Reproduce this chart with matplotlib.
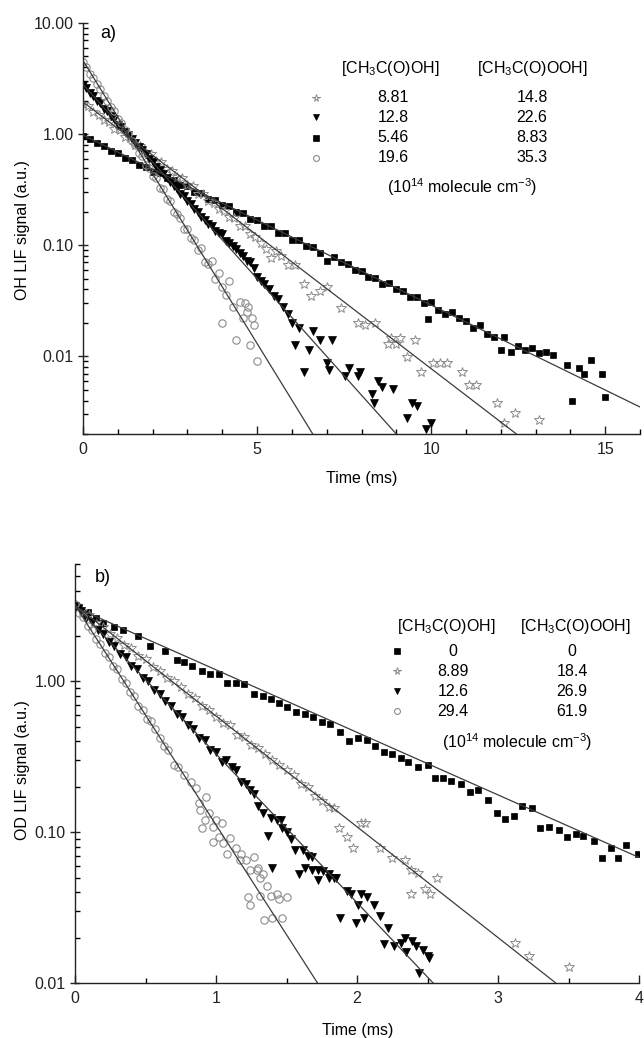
import matplotlib
matplotlib.use("Agg")
import matplotlib.pyplot as plt
from matplotlib.ticker import MultipleLocator, LogLocator, NullFormatter, FixedLocator, FuncFormatter
from matplotlib.lines import Line2D

plt.rcParams['font.family'] = ['Liberation Sans', 'DejaVu Sans']
plt.rcParams['mathtext.fontset'] = 'custom'
plt.rcParams['mathtext.rm'] = 'Liberation Sans'
plt.rcParams['mathtext.it'] = 'Liberation Sans:italic'

# ---------------- Panel a data (OH) ----------------
a_circ_t = [0.0, 0.1, 0.2, 0.3, 0.4, 0.5, 0.6, 0.7, 0.8, 0.9, 1.0, 1.1, 1.2, 1.3, 1.4, 1.5, 1.6, 1.7, 1.8, 1.9,
            2.0, 2.1, 2.2, 2.3, 2.4, 2.5, 2.6, 2.7, 2.8, 2.9, 3.0, 3.1, 3.2, 3.3, 3.4, 3.5, 3.6, 3.7, 3.8, 3.9,
            4.0, 4.1, 4.2, 4.3, 4.4, 4.5, 4.6, 4.7, 4.8, 4.9, 5.0, 4.0, 4.65, 4.75, 4.85]
a_circ_y = [4.45, 4.05, 3.50, 3.20, 2.80, 2.55, 2.20, 2.00, 1.74, 1.60, 1.38, 1.26, 1.08, 1.00, 0.86, 0.80, 0.68, 0.63, 0.53, 0.50,
            0.42, 0.40, 0.33, 0.32, 0.26, 0.25, 0.20, 0.19, 0.175, 0.14, 0.14, 0.115, 0.112, 0.09, 0.095, 0.07, 0.068, 0.072, 0.05, 0.056,
            0.042, 0.036, 0.048, 0.028, 0.014, 0.031, 0.022, 0.025, 0.0126, 0.019, 0.009, 0.020, 0.030, 0.028, 0.022]

a_tri_t = [0.0, 0.1, 0.2, 0.3, 0.4, 0.5, 0.6, 0.7, 0.8, 0.9, 1.0, 1.1, 1.2, 1.3, 1.4, 1.5, 1.6, 1.7, 1.8, 1.9,
           2.0, 2.1, 2.2, 2.3, 2.4, 2.5, 2.6, 2.7, 2.8, 2.9, 3.0, 3.1, 3.2, 3.3, 3.4, 3.5, 3.6, 3.7, 3.8, 3.9,
           4.0, 4.1, 4.2, 4.3, 4.4, 4.5, 4.6, 4.7, 4.8, 4.9, 5.0, 5.1, 5.2, 5.35, 5.5, 5.6, 5.75, 5.9, 6.0, 6.1,
           6.2, 6.35, 6.5, 6.6, 6.8, 7.0, 7.07, 7.16, 7.54, 7.64, 7.9, 7.96, 8.3, 8.37, 8.47, 8.6, 8.9, 9.3, 9.44, 9.6,
           9.84, 10.0]
a_tri_y = [2.75, 2.60, 2.35, 2.22, 2.00, 1.90, 1.70, 1.62, 1.45, 1.38, 1.22, 1.16, 1.05, 0.99, 0.90, 0.84, 0.76, 0.72, 0.66, 0.60,
           0.56, 0.51, 0.48, 0.44, 0.40, 0.37, 0.34, 0.32, 0.29, 0.275, 0.25, 0.235, 0.21, 0.20, 0.18, 0.17, 0.155, 0.148, 0.135, 0.13,
           0.125, 0.11, 0.105, 0.098, 0.092, 0.085, 0.080, 0.072, 0.070, 0.062, 0.052, 0.048, 0.045, 0.040, 0.035, 0.033, 0.028, 0.024, 0.020, 0.0126,
           0.018, 0.0072, 0.0115, 0.017, 0.014, 0.0088, 0.0075, 0.014, 0.0066, 0.0079, 0.0066, 0.0072, 0.0046, 0.0038, 0.0060, 0.0053, 0.0051, 0.0028, 0.0038, 0.0036,
           0.0022, 0.0025]

a_star_t = [0.0, 0.15, 0.3, 0.45, 0.6, 0.75, 0.9, 1.05, 1.2, 1.35, 1.5, 1.65, 1.8, 1.95, 2.1, 2.25, 2.4, 2.55, 2.7, 2.85,
            3.0, 3.15, 3.3, 3.45, 3.6, 3.75, 3.9, 4.05, 4.2, 4.35, 4.5, 4.65, 4.8, 4.95, 5.1, 5.25, 5.4, 5.55, 5.7, 5.9,
            6.1, 6.35, 6.55, 6.8, 7.0, 7.4, 7.9, 8.1, 8.4, 8.75, 8.85, 9.0, 9.1, 9.3, 9.55, 9.7, 10.05, 10.25, 10.45, 10.9,
            11.1, 11.3, 11.9, 12.1, 12.4, 13.1]
a_star_y = [1.85, 1.78, 1.58, 1.50, 1.33, 1.28, 1.12, 1.08, 0.95, 0.92, 0.80, 0.78, 0.68, 0.66, 0.57, 0.56, 0.49, 0.47, 0.41, 0.40,
            0.35, 0.34, 0.29, 0.29, 0.25, 0.24, 0.21, 0.205, 0.18, 0.175, 0.15, 0.148, 0.125, 0.118, 0.105, 0.092, 0.076, 0.088, 0.080, 0.067,
            0.066, 0.045, 0.035, 0.039, 0.042, 0.027, 0.020, 0.019, 0.020, 0.013, 0.0145, 0.013, 0.0145, 0.0098, 0.014, 0.0072, 0.0087, 0.0088, 0.0087, 0.0072,
            0.0055, 0.0055, 0.0038, 0.0025, 0.0031, 0.0027]

a_sq_t = [0.0, 0.2, 0.4, 0.6, 0.8, 1.0, 1.2, 1.4, 1.6, 1.8, 2.0, 2.2, 2.4, 2.6, 2.8, 3.0, 3.2, 3.4, 3.6, 3.8,
          4.0, 4.2, 4.4, 4.6, 4.8, 5.0, 5.2, 5.4, 5.6, 5.8, 6.0, 6.2, 6.4, 6.6, 6.8, 7.0, 7.2, 7.4, 7.6, 7.8,
          8.0, 8.2, 8.4, 8.6, 8.8, 9.0, 9.2, 9.4, 9.6, 9.8, 9.9, 10.0, 10.2, 10.4, 10.6, 10.8, 11.0, 11.2, 11.4, 11.6,
          11.8, 12.0, 12.1, 12.3, 12.5, 12.7, 12.9, 13.1, 13.3, 13.5, 13.9, 14.05, 14.25, 14.4, 14.6, 14.9, 15.0]
a_sq_y = [0.96, 0.90, 0.83, 0.78, 0.71, 0.68, 0.61, 0.59, 0.53, 0.51, 0.46, 0.45, 0.40, 0.39, 0.35, 0.34, 0.30, 0.295, 0.26, 0.255,
          0.23, 0.225, 0.20, 0.195, 0.172, 0.168, 0.15, 0.148, 0.13, 0.128, 0.112, 0.112, 0.098, 0.096, 0.086, 0.072, 0.078, 0.070, 0.068, 0.060,
          0.059, 0.052, 0.051, 0.045, 0.046, 0.040, 0.039, 0.034, 0.034, 0.030, 0.0216, 0.031, 0.026, 0.024, 0.025, 0.022, 0.021, 0.018, 0.019, 0.016,
          0.015, 0.0115, 0.0148, 0.011, 0.0125, 0.0115, 0.012, 0.0108, 0.011, 0.0102, 0.0083, 0.0040, 0.0078, 0.0070, 0.0092, 0.0070, 0.0043]

# fitted lines (times, values)
a_fit_circ = ([0.0, 6.6], [4.6, 0.002])
a_fit_tri = ([0.0, 9.0], [2.8, 0.002])
a_fit_star = ([0.0, 12.45], [1.95, 0.002])
a_fit_sq = ([0.0, 16.0], [0.98, 0.0035])

a_legend_acid = ['8.81', '12.8', '5.46', '19.6']
a_legend_peracid = ['14.8', '22.6', '8.83', '35.3']
a_legend_keys = ['star', 'tri', 'sq', 'circ']

# ---------------- Panel b data (OD) ----------------
b_sq_t = [0.03, 0.09, 0.15, 0.2, 0.28, 0.34, 0.45, 0.53, 0.64, 0.72, 0.77, 0.83, 0.9, 0.96, 1.02, 1.08, 1.14, 1.2, 1.27, 1.33,
          1.39, 1.45, 1.5, 1.57, 1.63, 1.69, 1.75, 1.81, 1.88, 1.94, 2.01, 2.07, 2.13, 2.19, 2.25, 2.31, 2.36, 2.43, 2.5, 2.55,
          2.61, 2.67, 2.74, 2.8, 2.86, 2.93, 2.99, 3.05, 3.11, 3.17, 3.24, 3.3, 3.36, 3.43, 3.49, 3.55, 3.6, 3.68, 3.74, 3.8,
          3.85, 3.91, 3.99]
b_sq_y = [3.1, 2.9, 2.65, 2.45, 2.3, 2.2, 2.0, 1.72, 1.58, 1.38, 1.35, 1.27, 1.18, 1.12, 1.12, 0.98, 0.97, 0.96, 0.83, 0.80,
          0.76, 0.72, 0.68, 0.63, 0.61, 0.58, 0.54, 0.52, 0.46, 0.40, 0.42, 0.41, 0.37, 0.34, 0.33, 0.31, 0.29, 0.27, 0.28, 0.23,
          0.23, 0.22, 0.21, 0.185, 0.19, 0.163, 0.134, 0.123, 0.128, 0.15, 0.145, 0.106, 0.108, 0.103, 0.093, 0.098, 0.094, 0.087, 0.067, 0.079,
          0.067, 0.082, 0.072]

b_star_t = [0.0, 0.05, 0.1, 0.15, 0.2, 0.25, 0.3, 0.35, 0.4, 0.45, 0.5, 0.55, 0.6, 0.65, 0.7, 0.75, 0.8, 0.85, 0.9, 0.95,
            1.0, 1.05, 1.1, 1.15, 1.2, 1.25, 1.3, 1.35, 1.4, 1.45, 1.5, 1.55, 1.6, 1.65, 1.7, 1.75, 1.8, 1.84, 1.87, 1.93,
            1.97, 2.03, 2.06, 2.16, 2.25, 2.34, 2.38, 2.38, 2.43, 2.48, 2.52, 2.57, 3.12, 3.22, 3.5]
b_star_y = [3.2, 2.95, 2.75, 2.45, 2.30, 2.05, 1.95, 1.75, 1.66, 1.48, 1.40, 1.24, 1.18, 1.05, 1.00, 0.92, 0.82, 0.78, 0.69, 0.65,
            0.58, 0.53, 0.51, 0.44, 0.43, 0.38, 0.36, 0.33, 0.30, 0.28, 0.26, 0.24, 0.21, 0.20, 0.175, 0.16, 0.147, 0.145, 0.106, 0.093,
            0.079, 0.115, 0.115, 0.079, 0.067, 0.065, 0.056, 0.039, 0.054, 0.042, 0.039, 0.050, 0.0185, 0.015, 0.0127]

b_tri_t = [0.0, 0.04, 0.08, 0.12, 0.16, 0.2, 0.24, 0.28, 0.32, 0.36, 0.4, 0.44, 0.48, 0.52, 0.56, 0.6, 0.64, 0.68, 0.72, 0.76,
           0.8, 0.84, 0.88, 0.92, 0.96, 1.0, 1.04, 1.07, 1.11, 1.14, 1.18, 1.21, 1.24, 1.27, 1.3, 1.33, 1.37, 1.39, 1.4, 1.43,
           1.46, 1.47, 1.5, 1.53, 1.56, 1.59, 1.62, 1.63, 1.65, 1.68, 1.68, 1.72, 1.72, 1.76, 1.8, 1.8, 1.84, 1.85, 1.88, 1.93,
           1.96, 1.99, 2.01, 2.03, 2.05, 2.07, 2.12, 2.16, 2.19, 2.22, 2.26, 2.31, 2.34, 2.35, 2.39, 2.42, 2.44, 2.47, 2.5, 2.51]
b_tri_y = [3.15, 2.95, 2.62, 2.47, 2.18, 2.06, 1.82, 1.72, 1.52, 1.44, 1.27, 1.20, 1.06, 1.00, 0.88, 0.83, 0.74, 0.69, 0.61, 0.58,
           0.51, 0.48, 0.42, 0.41, 0.35, 0.34, 0.29, 0.30, 0.27, 0.26, 0.215, 0.21, 0.19, 0.18, 0.15, 0.135, 0.095, 0.125, 0.058, 0.12,
           0.12, 0.107, 0.10, 0.09, 0.076, 0.053, 0.076, 0.058, 0.070, 0.068, 0.056, 0.056, 0.048, 0.055, 0.053, 0.050, 0.050, 0.050, 0.027, 0.041,
           0.039, 0.025, 0.033, 0.039, 0.027, 0.037, 0.033, 0.028, 0.018, 0.023, 0.0175, 0.0185, 0.020, 0.016, 0.019, 0.0175, 0.0117, 0.0165, 0.015, 0.0147]

b_circ_t = [0.0, 0.03, 0.06, 0.09, 0.12, 0.15, 0.18, 0.21, 0.24, 0.27, 0.3, 0.33, 0.36, 0.39, 0.42, 0.45, 0.48, 0.51, 0.54, 0.57,
            0.6, 0.63, 0.66, 0.7, 0.73, 0.77, 0.82, 0.86, 0.88, 0.89, 0.9, 0.92, 0.93, 0.95, 0.98, 0.98, 1.0, 1.02, 1.04, 1.05,
            1.08, 1.1, 1.14, 1.17, 1.18, 1.21, 1.24, 1.27, 1.29, 1.3, 1.31, 1.33, 1.36, 1.23, 1.24, 1.31, 1.39, 1.43, 1.45, 1.5,
            1.34, 1.4, 1.47]
b_circ_y = [3.25, 2.85, 2.66, 2.33, 2.18, 1.90, 1.78, 1.55, 1.46, 1.26, 1.20, 1.03, 0.98, 0.85, 0.80, 0.69, 0.65, 0.56, 0.55, 0.48,
            0.42, 0.37, 0.35, 0.28, 0.27, 0.24, 0.215, 0.195, 0.156, 0.14, 0.106, 0.12, 0.17, 0.134, 0.108, 0.086, 0.12, 0.093, 0.115, 0.085,
            0.072, 0.091, 0.079, 0.065, 0.072, 0.065, 0.056, 0.068, 0.056, 0.058, 0.050, 0.053, 0.044, 0.037, 0.033, 0.038, 0.038, 0.039, 0.036, 0.037,
            0.026, 0.027, 0.027]

b_fit_sq = ([0.0, 4.0], [3.1, 0.068])
b_fit_star = ([0.0, 3.41], [3.2, 0.01])
b_fit_tri = ([0.0, 2.54], [3.2, 0.01])
b_fit_circ = ([0.0, 1.72], [3.2, 0.01])

b_legend_acid = ['0', '8.89', '12.6', '29.4']
b_legend_peracid = ['0', '18.4', '26.9', '61.9']
b_legend_keys = ['sq', 'star', 'tri', 'circ']

# ---------------- styles ----------------
GRAY = '#8c8c8c'
styles = {
    'circ': dict(marker='o', mfc='none', mec=GRAY, ms=5.3, mew=0.8, ls='none'),
    'star': dict(marker='*', mfc='none', mec=GRAY, ms=7.0, mew=0.7, ls='none'),
    'tri': dict(marker='v', mfc='black', mec='black', ms=5.6, mew=0.5, ls='none'),
    'sq': dict(marker='s', mfc='black', mec='black', ms=4.6, mew=0.5, ls='none'),
}
FITC = '#3c3c3c'
FS = 11.5

W, H = 644, 1038
fig = plt.figure(figsize=(W / 100, H / 100), dpi=100)


def fx(px):
    return px / W


def fy(py):
    return 1 - py / H


axa = fig.add_axes([fx(83), fy(434), (640 - 83) / W, (434 - 23) / H])
axb = fig.add_axes([fx(75), fy(983), (639 - 75) / W, (983 - 564) / H])

fmt = FuncFormatter(lambda v, p: '%.2f' % v)

for ax in (axa, axb):
    ax.set_yscale('log')
    for s in ('top', 'right'):
        ax.spines[s].set_visible(False)
    for s in ('left', 'bottom'):
        ax.spines[s].set_linewidth(1.0)
        ax.spines[s].set_color('#222222')
    ax.yaxis.set_minor_locator(LogLocator(base=10, subs=range(2, 10), numticks=20))
    ax.yaxis.set_minor_formatter(NullFormatter())
    ax.yaxis.set_major_formatter(fmt)
    ax.tick_params(axis='x', which='major', direction='in', length=6, width=1.0, pad=6, labelsize=FS, colors='#222222')
    ax.tick_params(axis='x', which='minor', direction='in', length=3.5, width=1.0)
    ax.tick_params(axis='y', which='major', direction='inout', length=7, width=1.0, pad=3, labelsize=FS, colors='#222222')
    ax.tick_params(axis='y', which='minor', direction='in', length=3.5, width=1.0)

# Panel a
axa.set_xlim(0, 16)
axa.set_ylim(0.002, 10)
axa.yaxis.set_major_locator(FixedLocator([0.01, 0.1, 1, 10]))
axa.xaxis.set_major_locator(MultipleLocator(5))
axa.xaxis.set_minor_locator(MultipleLocator(1))

for key, t, y in (('sq', a_sq_t, a_sq_y), ('star', a_star_t, a_star_y),
                  ('tri', a_tri_t, a_tri_y), ('circ', a_circ_t, a_circ_y)):
    axa.plot(t, y, **styles[key])
for ft in (a_fit_circ, a_fit_tri, a_fit_star, a_fit_sq):
    axa.plot(ft[0], ft[1], color=FITC, lw=0.9, zorder=5)

# Panel b
axb.set_xlim(0, 4)
axb.set_ylim(0.01, 6)
axb.yaxis.set_major_locator(FixedLocator([0.01, 0.1, 1]))
axb.xaxis.set_major_locator(MultipleLocator(1))
axb.xaxis.set_minor_locator(MultipleLocator(0.5))

for key, t, y in (('sq', b_sq_t, b_sq_y), ('star', b_star_t, b_star_y),
                  ('tri', b_tri_t, b_tri_y), ('circ', b_circ_t, b_circ_y)):
    axb.plot(t, y, **styles[key])
for ft in (b_fit_circ, b_fit_tri, b_fit_star, b_fit_sq):
    axb.plot(ft[0], ft[1], color=FITC, lw=0.9, zorder=5)

# axis labels
fig.text(fx(23), fy(230), 'OH LIF signal (a.u.)', rotation=90, ha='center', va='center', fontsize=FS)
fig.text(fx(23), fy(770), 'OD LIF signal (a.u.)', rotation=90, ha='center', va='center', fontsize=FS)
fig.text(fx(362), fy(478), 'Time (ms)', ha='center', va='center', fontsize=FS)
fig.text(fx(358), fy(1030), 'Time (ms)', ha='center', va='center', fontsize=FS)

fig.text(fx(100), fy(33), 'a)', ha='left', va='center', fontsize=13)
fig.text(fx(95), fy(577), 'b)', ha='left', va='center', fontsize=13)

acid = '[CH$_3$C(O)OH]'
peracid = '[CH$_3$C(O)OOH]'
units = '(10$^{14}$ molecule cm$^{-3}$)'


def legend(xm, x1, x2, xh1, xh2, yh, rows, yu, xu, keys, v1, v2):
    fig.text(fx(xh1), fy(yh), acid, ha='center', va='center', fontsize=FS)
    fig.text(fx(xh2), fy(yh), peracid, ha='center', va='center', fontsize=FS)
    for k, yr, a, b in zip(keys, rows, v1, v2):
        st = dict(styles[k])
        st['ms'] = st['ms'] * 0.8
        fig.add_artist(Line2D([fx(xm)], [fy(yr)], transform=fig.transFigure, **st))
        fig.text(fx(x1), fy(yr), a, ha='center', va='center', fontsize=FS)
        fig.text(fx(x2), fy(yr), b, ha='center', va='center', fontsize=FS)
    fig.text(fx(xu), fy(yu), units, ha='center', va='center', fontsize=FS)


legend(316, 393, 532, 390, 532, 68, [98, 117, 138, 158], 187, 462,
       a_legend_keys, a_legend_acid, a_legend_peracid)
legend(397, 453, 572, 446, 575, 626, [651, 671, 691, 711], 742, 517,
       b_legend_keys, b_legend_acid, b_legend_peracid)

fig.savefig('out.png', dpi=100)
